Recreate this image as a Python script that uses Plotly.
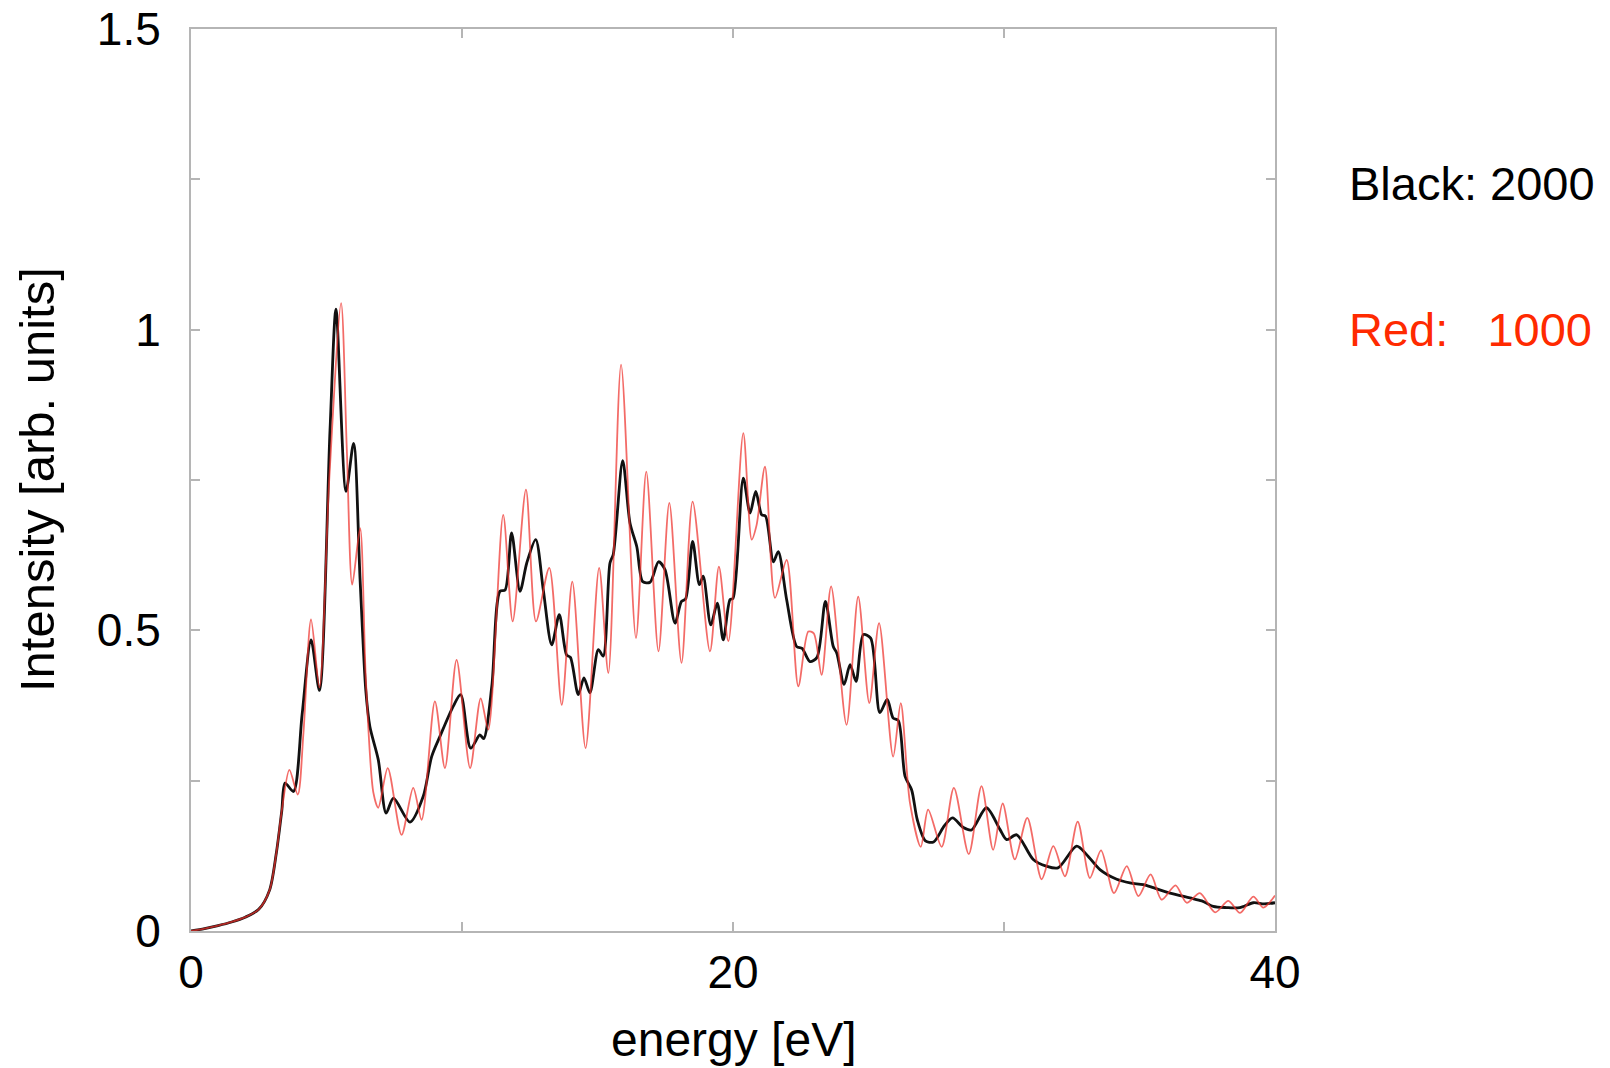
import plotly.graph_objects as go

# Spectrum computed with 2000 basis functions (black)
energy_2000 = [
    0.0, 0.5, 1.0, 1.5, 2.0, 2.5, 2.9, 3.15, 3.35, 3.47, 3.78, 4.1, 4.43, 4.74,
    5.13, 5.35, 5.72, 6.0, 6.24, 6.45, 6.6, 6.91, 7.2, 7.47, 8.08, 8.57, 8.88,
    9.19, 9.68, 9.95, 10.32, 10.66, 10.8, 11.1, 11.4, 11.59, 11.83, 12.14, 12.39,
    12.72, 13.0, 13.31, 13.59, 13.86, 14.0, 14.29, 14.5, 14.72, 15.03, 15.21,
    15.46, 15.58, 15.93, 16.2, 16.45, 16.67, 16.94, 17.25, 17.49, 17.86, 18.1,
    18.25, 18.51, 18.76, 18.9, 19.18, 19.42, 19.64, 19.89, 20.0, 20.38, 20.63,
    20.84, 21.06, 21.2, 21.49, 21.67, 21.98, 22.35, 22.55, 22.84, 23.1, 23.41,
    23.7, 23.83, 24.1, 24.32, 24.54, 24.81, 25.08, 25.42, 25.69, 25.91, 26.1,
    26.35, 26.59, 26.8, 27.1, 27.4, 27.8, 28.1, 28.5, 28.8, 29.35, 29.85, 30.1,
    30.47, 31.08, 31.56, 31.99, 32.68, 33.05, 33.54, 34.16, 34.65, 35.14, 35.51,
    36.13, 36.86, 37.3, 37.72, 38.21, 38.7, 39.2, 39.6, 40.0,
]
intensity_2000 = [
    0.0, 0.004, 0.009, 0.015, 0.023, 0.036, 0.068, 0.13, 0.20, 0.246, 0.232, 0.36,
    0.484, 0.400, 0.833, 1.034, 0.731, 0.811, 0.584, 0.40, 0.34, 0.285, 0.196,
    0.221, 0.181, 0.224, 0.290, 0.324, 0.374, 0.393, 0.304, 0.326, 0.32, 0.407,
    0.565, 0.567, 0.662, 0.565, 0.612, 0.651, 0.567, 0.476, 0.526, 0.459, 0.455,
    0.393, 0.421, 0.396, 0.468, 0.457, 0.612, 0.626, 0.782, 0.678, 0.639, 0.581,
    0.580, 0.614, 0.601, 0.512, 0.548, 0.552, 0.648, 0.576, 0.590, 0.509, 0.545,
    0.484, 0.551, 0.553, 0.753, 0.695, 0.731, 0.692, 0.690, 0.614, 0.631, 0.551,
    0.473, 0.470, 0.448, 0.455, 0.548, 0.473, 0.462, 0.410, 0.443, 0.415, 0.493,
    0.487, 0.363, 0.385, 0.354, 0.35, 0.257, 0.235, 0.185, 0.150, 0.148, 0.175,
    0.188, 0.172, 0.168, 0.205, 0.169, 0.152, 0.160, 0.119, 0.108, 0.105, 0.141,
    0.127, 0.102, 0.086, 0.080, 0.077, 0.072, 0.063, 0.055, 0.050, 0.041, 0.039,
    0.039, 0.047, 0.045, 0.047,
]

# Spectrum computed with 1000 basis functions (red)
energy_1000 = [
    0.0, 0.5, 1.0, 1.5, 2.0, 2.5, 2.9, 3.15, 3.35, 3.63, 3.94, 4.15, 4.43, 4.74,
    5.1, 5.54, 5.75, 5.95, 6.24, 6.45, 6.73, 6.91, 7.26, 7.77, 8.2, 8.51, 9.0,
    9.37, 9.8, 10.3, 10.69, 10.97, 11.52, 11.87, 12.36, 12.73, 13.22, 13.68,
    14.07, 14.56, 15.06, 15.4, 15.87, 16.42, 16.8, 17.25, 17.65, 18.1, 18.51,
    19.15, 19.48, 19.83, 20.38, 20.69, 20.87, 21.18, 21.55, 21.98, 22.41, 22.78,
    22.98, 23.27, 23.62, 24.19, 24.62, 25.03, 25.39, 25.91, 26.19, 26.53, 26.93,
    27.2, 27.7, 28.15, 28.7, 29.17, 29.6, 29.95, 30.4, 30.86, 31.39, 31.82, 32.25,
    32.72, 33.17, 33.58, 34.06, 34.53, 34.96, 35.41, 35.82, 36.33, 36.74, 37.23,
    37.79, 38.28, 38.71, 39.2, 39.57, 40.0,
]
intensity_1000 = [
    0.0, 0.004, 0.009, 0.015, 0.023, 0.036, 0.068, 0.13, 0.20, 0.268, 0.227, 0.33,
    0.518, 0.405, 0.75, 1.044, 0.80, 0.576, 0.670, 0.42, 0.23, 0.205, 0.271,
    0.160, 0.238, 0.185, 0.382, 0.271, 0.451, 0.271, 0.387, 0.335, 0.692, 0.515,
    0.734, 0.515, 0.604, 0.376, 0.581, 0.304, 0.604, 0.429, 0.942, 0.487, 0.764,
    0.465, 0.712, 0.446, 0.714, 0.465, 0.606, 0.482, 0.828, 0.651, 0.675, 0.772,
    0.554, 0.617, 0.407, 0.498, 0.495, 0.426, 0.573, 0.343, 0.556, 0.379, 0.512,
    0.290, 0.379, 0.213, 0.140, 0.202, 0.140, 0.238, 0.128, 0.241, 0.135, 0.212,
    0.119, 0.188, 0.086, 0.141, 0.091, 0.182, 0.088, 0.134, 0.063, 0.108, 0.058,
    0.094, 0.052, 0.076, 0.047, 0.063, 0.031, 0.050, 0.030, 0.057, 0.039, 0.059,
]

x_ticks = [0, 20, 40]
y_ticks = [0, 0.5, 1, 1.5]

FONT = "Liberation Sans, Arial, Helvetica, sans-serif"
FRAME = "#b5b5b5"

fig = go.Figure()
fig.add_trace(go.Scatter(
    x=energy_2000, y=intensity_2000, mode="lines",
    line=dict(color="#111111", width=2.8, shape="spline", smoothing=0.8),
    name="2000",
))
fig.add_trace(go.Scatter(
    x=energy_1000, y=intensity_1000, mode="lines",
    line=dict(color="rgba(238,50,45,0.72)", width=1.8, shape="spline", smoothing=0.8),
    name="1000",
))

axis_common = dict(
    showline=True, linecolor=FRAME, linewidth=2, mirror="ticks",
    ticks="inside", ticklen=9, tickwidth=1.5, tickcolor=FRAME,
    showgrid=False, zeroline=False, automargin=False,
    tickfont=dict(family=FONT, size=46, color="#000000"),
)

fig.update_xaxes(
    range=[0, 40], tickvals=x_ticks, ticktext=[str(v) for v in x_ticks],
    minor=dict(ticks="inside", tickvals=[10, 30], ticklen=9, tickcolor=FRAME, tickwidth=1.5),
    ticklabelstandoff=0,
    **axis_common,
)
fig.update_yaxes(
    range=[0, 1.5], tickvals=y_ticks, ticktext=["0", "0.5", "1", "1.5"],
    minor=dict(ticks="inside", tickvals=[0.25, 0.75, 1.25], ticklen=9, tickcolor=FRAME, tickwidth=1.5),
    ticklabelstandoff=19,
    **axis_common,
)

fig.update_layout(
    width=1610, height=1068,
    margin=dict(l=191, r=335, t=29, b=137),
    plot_bgcolor="white", paper_bgcolor="white",
    showlegend=False,
    annotations=[
        dict(text="energy [eV]", xref="paper", yref="paper", x=0.5, y=-0.12,
             xanchor="center", yanchor="middle", showarrow=False,
             font=dict(family=FONT, size=48, color="#000000")),
        dict(text="Intensity [arb. units]", xref="paper", yref="paper", x=-0.142, y=0.5,
             xanchor="center", yanchor="middle", textangle=-90, showarrow=False,
             font=dict(family=FONT, size=49, color="#000000")),
        dict(text="Black: 2000", xref="paper", yref="paper", x=1.066, y=0.829,
             xanchor="left", yanchor="middle", showarrow=False,
             font=dict(family=FONT, size=47, color="#000000")),
        dict(text="Red:\u00a0\u00a0\u00a01000", xref="paper", yref="paper", x=1.066, y=0.667,
             xanchor="left", yanchor="middle", showarrow=False,
             font=dict(family=FONT, size=47, color="#ff2a00")),
    ],
)

fig.write_html("out.html")
